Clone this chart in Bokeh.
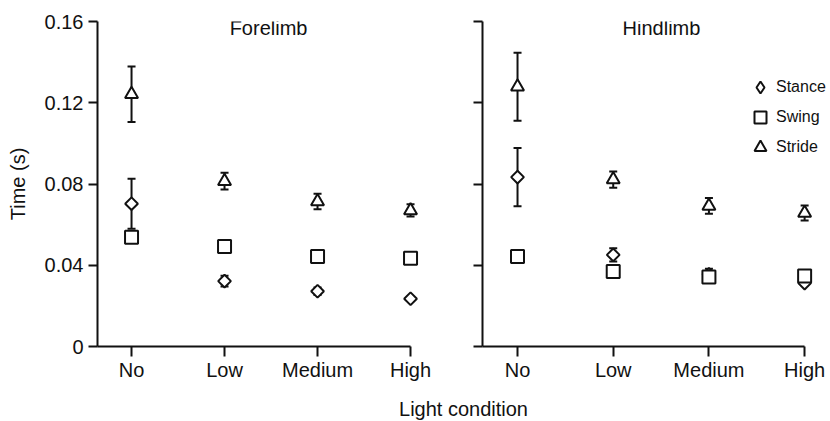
import numpy as np
from bokeh.plotting import figure
from bokeh.models import (ColumnDataSource, FixedTicker, Whisker, TeeHead, Label,
                          Legend, LegendItem, Range1d)
from bokeh.layouts import row, column
from bokeh.embed import file_html
from bokeh.resources import INLINE

# ---------------- data ----------------
conditions = ["No", "Low", "Medium", "High"]
y_ticks = [0, 0.04, 0.08, 0.12, 0.16]
y_tick_labels = ["0", "0.04", "0.08", "0.12", "0.16"]

fore_stance = [0.0703, 0.0322, 0.0272, 0.0235]
fore_stance_err = [0.0123, 0.0026, 0.0018, 0.0010]
fore_swing = [0.0538, 0.0492, 0.0443, 0.0435]
fore_swing_err = [0.0020, 0.0015, 0.0012, 0.0012]
fore_stride = [0.1242, 0.0814, 0.0714, 0.0670]
fore_stride_err = [0.0137, 0.0041, 0.0038, 0.0030]

hind_stance = [0.0834, 0.0451, 0.0355, 0.0312]
hind_stance_err = [0.0143, 0.0033, 0.0028, 0.0010]
hind_swing = [0.0443, 0.0369, 0.0342, 0.0347]
hind_swing_err = [0.0012, 0.0012, 0.0012, 0.0015]
hind_stride = [0.1279, 0.0822, 0.0692, 0.0657]
hind_stride_err = [0.0167, 0.0040, 0.0039, 0.0037]

series_names = ["Stance", "Swing", "Stride"]

# ---------------- style ----------------
FONT = "Liberation Sans"
INK = "#111111"
FS = "20px"
H = 390          # height of the two panels
FRAME_TOP = 21
FRAME_BOTTOM = 346


def style_axes(p):
    p.outline_line_color = None
    p.grid.visible = False
    p.background_fill_color = "white"
    p.border_fill_color = "white"
    for ax in (p.xaxis, p.yaxis):
        ax.axis_line_width = 2
        ax.axis_line_color = INK
        ax.major_tick_line_width = 2
        ax.major_tick_line_color = INK
        ax.major_tick_in = 0
        ax.minor_tick_line_color = None
        ax.major_label_text_font = FONT
        ax.major_label_text_font_size = FS
        ax.major_label_text_color = INK
    p.yaxis.major_tick_out = 9
    p.xaxis.major_tick_out = 10
    p.xaxis.major_label_standoff = 2
    p.yaxis.ticker = FixedTicker(ticks=y_ticks)
    p.yaxis.major_label_overrides = {t: l for t, l in zip(y_ticks, y_tick_labels)}
    xs = list(range(1, len(conditions) + 1))
    p.xaxis.ticker = FixedTicker(ticks=xs)
    p.xaxis.major_label_overrides = {x: c for x, c in zip(xs, conditions)}


def add_series(p, means, errs, marker, size, angle):
    xs = np.arange(1, len(means) + 1)
    m = np.array(means)
    e = np.array(errs)
    src = ColumnDataSource(dict(x=xs, y=m, upper=m + e, lower=m - e))
    w = Whisker(base="x", upper="upper", lower="lower", source=src, dimension="height",
                line_color=INK, line_width=2, level="underlay",
                upper_head=TeeHead(size=8, line_color=INK, line_width=2),
                lower_head=TeeHead(size=8, line_color=INK, line_width=2))
    p.add_layout(w)
    r = p.scatter(x="x", y="y", source=src, marker=marker, size=size, angle=angle,
                  fill_color="white", line_color=INK, line_width=2)
    return r, src


def make_panel(width, min_left, min_right, x_start, x_end, title, title_x, series):
    p = figure(width=width, height=H, x_range=Range1d(x_start, x_end),
               y_range=Range1d(y_ticks[0], y_ticks[-1]), output_backend="svg",
               toolbar_location=None,
               min_border_left=min_left, min_border_right=min_right,
               min_border_top=FRAME_TOP, min_border_bottom=H - FRAME_BOTTOM)
    style_axes(p)
    p.xaxis.bounds = (x_start, len(conditions))
    out = []
    for means, errs, marker, size, angle in series:
        out.append(add_series(p, means, errs, marker, size, angle))
    p.add_layout(Label(x=title_x, y=0.157, text=title, text_align="center",
                       text_baseline="middle", text_font=FONT, text_font_size=FS,
                       text_color=INK))
    return p, out


# left panel: frame from x=97 to x=428 (tick spacing ~93 px)
p1, _ = make_panel(448, 97, 20, 0.634, 0.634 + 331 / 93, "Forelimb", 2.473, [
    (fore_stance, fore_stance_err, "square", 9, np.pi / 4),
    (fore_swing, fore_swing_err, "square", 13, 0),
    (fore_stride, fore_stride_err, "triangle", 13, 0),
])
p1.yaxis.axis_label = "Time (s)"
p1.yaxis.axis_label_text_font = FONT
p1.yaxis.axis_label_text_font_size = FS
p1.yaxis.axis_label_text_font_style = "normal"
p1.yaxis.axis_label_text_color = INK
p1.yaxis.axis_label_standoff = 13

# right panel: frame from x=482 to x=830 (tick spacing ~95.7 px)
p2, out2 = make_panel(382, 34, 0, 0.634, 0.634 + 348 / 95.7, "Hindlimb", 2.504, [
    (hind_stance, hind_stance_err, "square", 9, np.pi / 4),
    (hind_swing, hind_swing_err, "square", 13, 0),
    (hind_stride, hind_stride_err, "triangle", 13, 0),
])
p2.yaxis.major_label_overrides = {t: "" for t in y_ticks}

# legend: a hidden diamond twin of the stance series supplies the legend swatch
stance_src = out2[0][1]
stance_swatch = p2.scatter(x="x", y="y", source=stance_src, marker="diamond",
                           fill_color="white", line_color=INK, line_width=2, visible=False)
leg_r = [stance_swatch, out2[1][0], out2[2][0]]
legend = Legend(items=[LegendItem(label=n, renderers=[r]) for n, r in zip(series_names, leg_r)],
                location=(263, 184), glyph_width=30, glyph_height=30, label_height=30,
                label_standoff=1, padding=0, margin=0, spacing=0,
                border_line_color=None, background_fill_alpha=0,
                inactive_fill_alpha=0,
                label_text_font=FONT, label_text_font_size="16px", label_text_color=INK)
p2.add_layout(legend)

# shared x-axis title strip
p3 = figure(width=830, height=31, x_range=Range1d(0, 830), y_range=Range1d(0, 31),
            x_axis_location=None, y_axis_location=None, min_border=0,
            toolbar_location=None, output_backend="svg")
p3.outline_line_color = None
p3.grid.visible = False
p3.add_layout(Label(x=463, y=13, text="Light condition", text_align="center",
                    text_baseline="alphabetic", text_font=FONT, text_font_size=FS,
                    text_color=INK))

layout = column(row(p1, p2), p3)
open("out.html", "w").write(file_html(layout, INLINE))
